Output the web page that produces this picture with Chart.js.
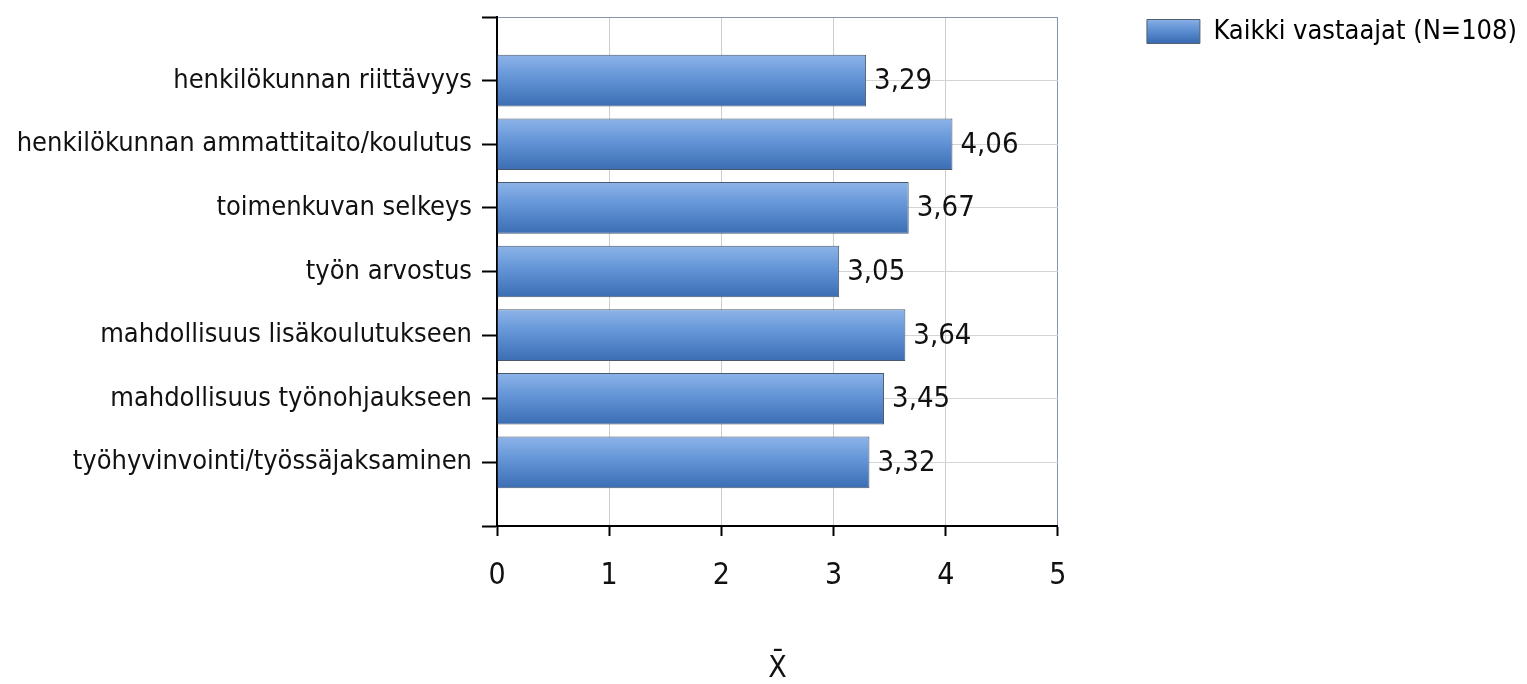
<!DOCTYPE html>
<html>
<head>
<meta charset="utf-8">
<script src="https://cdn.jsdelivr.net/npm/chart.js@4.4.1/dist/chart.umd.min.js"></script>
<style>
  html, body { margin: 0; padding: 0; background: #ffffff; }
  #wrap { width: 1527px; height: 684px; }
</style>
</head>
<body>
<div id="wrap"><canvas id="c" width="1527" height="684"></canvas></div>
<script>
// ---- data ----
const categories = [
  'henkilökunnan riittävyys',
  'henkilökunnan ammattitaito/koulutus',
  'toimenkuvan selkeys',
  'työn arvostus',
  'mahdollisuus lisäkoulutukseen',
  'mahdollisuus työnohjaukseen',
  'työhyvinvointi/työssäjaksaminen'
];
const values = [3.29, 4.06, 3.67, 3.05, 3.64, 3.45, 3.32];
const xTickValues = [0, 1, 2, 3, 4, 5];
const seriesLabel = 'Kaikki vastaajat (N=108)';
const axisTitle = 'X\u0304';

// padded category list (empty slot above and below)
const labels = [''].concat(categories, ['']);
const data = [null].concat(values, [null]);

const narrow = "'Liberation Sans Narrow', 'Arial Narrow', 'DejaVu Sans Condensed', sans-serif";
const tahomaLike = "'DejaVu Sans Condensed', 'DejaVu Sans', sans-serif";

function barGradient(ctx, top, bottom) {
  const g = ctx.createLinearGradient(0, top, 0, bottom);
  g.addColorStop(0, '#8db4e9');
  g.addColorStop(0.45, '#6394d6');
  g.addColorStop(1, '#3b6db4');
  return g;
}

const gradientPlugin = {
  id: 'barGradient',
  beforeDatasetsDraw(chart) {
    const meta = chart.getDatasetMeta(0);
    const ds = chart.data.datasets[0].data;
    meta.data.forEach((el, i) => {
      if (ds[i] == null) return;
      const p = el.getProps(['y', 'height'], true);
      el.options.backgroundColor = barGradient(chart.ctx, p.y - p.height / 2, p.y + p.height / 2);
    });
  }
};

const valueLabelPlugin = {
  id: 'valueLabels',
  afterDatasetsDraw(chart) {
    const ctx = chart.ctx;
    const meta = chart.getDatasetMeta(0);
    const ds = chart.data.datasets[0].data;
    ctx.save();
    ctx.font = "29px " + tahomaLike;
    ctx.fillStyle = '#111111';
    ctx.textAlign = 'left';
    ctx.textBaseline = 'middle';
    meta.data.forEach((el, i) => {
      const v = ds[i];
      if (v == null) return;
      const p = el.getProps(['x', 'y'], true);
      ctx.fillText(v.toFixed(2).replace('.', ','), p.x + 8, p.y + 1);
    });
    ctx.restore();
  }
};

const ctx = document.getElementById('c').getContext('2d');
new Chart(ctx, {
  type: 'bar',
  data: {
    labels: labels,
    datasets: [{
      label: seriesLabel,
      data: data,
      backgroundColor: () => '#5f90d3',
      borderColor: '#4a586c',
      borderWidth: 1,
      categoryPercentage: 1.0,
      barPercentage: 0.81
    }]
  },
  options: {
    indexAxis: 'y',
    responsive: false,
    animation: false,
    layout: { padding: { top: 17, left: 0, right: 0, bottom: 0 } },
    plugins: {
      tooltip: { enabled: false },
      legend: {
        position: 'right',
        align: 'start',
        maxWidth: 383,
        labels: {
          boxWidth: 53,
          boxHeight: 24,
          padding: 1,
          color: '#222222',
          font: { family: tahomaLike, size: 27 },
          generateLabels(chart) {
            const top = chart.legend ? chart.legend.top + 1 : 18;
            return [{
              text: seriesLabel,
              fillStyle: barGradient(chart.ctx, top, top + 24),
              strokeStyle: '#55606e',
              lineWidth: 1,
              hidden: false,
              datasetIndex: 0
            }];
          }
        }
      }
    },
    scales: {
      x: {
        type: 'linear',
        position: 'bottom',
        min: 0,
        max: 5,
        afterBuildTicks(scale) { scale.ticks = xTickValues.map(v => ({ value: v })); },
        ticks: {
          color: '#111111',
          font: { family: narrow, size: 30 },
          padding: 22
        },
        grid: {
          color: (c) => c.index === 5 ? '#8494ab' : (c.index === 0 ? '#000000' : '#cdcdcd'),
          lineWidth: 1,
          tickLength: 10,
          tickColor: '#000000',
          tickWidth: 2
        },
        border: { color: '#000000', width: 2 },
        title: {
          display: true,
          text: axisTitle,
          color: '#111111',
          font: { family: narrow, size: 30, lineHeight: 1 },
          padding: { top: 0, bottom: 0 }
        },
        afterFit(scale) {
          scale.height = 158;
          scale.paddingLeft = 0;
          scale.paddingRight = 0;
        }
      },
      y: {
        type: 'category',
        position: 'left',
        offset: false,
        ticks: {
          color: '#111111',
          font: { family: narrow, size: 27 },
          padding: 10,
          autoSkip: false
        },
        grid: {
          offset: false,
          color: (c) => c.index === 0 ? '#8494ab' : (c.index === labels.length - 1 ? '#000000' : '#d4d4d4'),
          lineWidth: 1,
          tickLength: 15,
          tickColor: '#000000',
          tickWidth: 2
        },
        border: { color: '#000000', width: 2 },
        afterFit(scale) {
          scale.width = 497;
          scale.paddingTop = 0;
          scale.paddingBottom = 0;
        }
      },
      gap: {
        type: 'category',
        axis: 'y',
        position: 'right',
        offset: false,
        ticks: { display: false },
        grid: { display: false, drawTicks: false },
        border: { display: false },
        afterFit(scale) {
          scale.width = 88;
          scale.paddingTop = 0;
          scale.paddingBottom = 0;
        }
      }
    }
  },
  plugins: [gradientPlugin, valueLabelPlugin]
});
</script>
</body>
</html>
